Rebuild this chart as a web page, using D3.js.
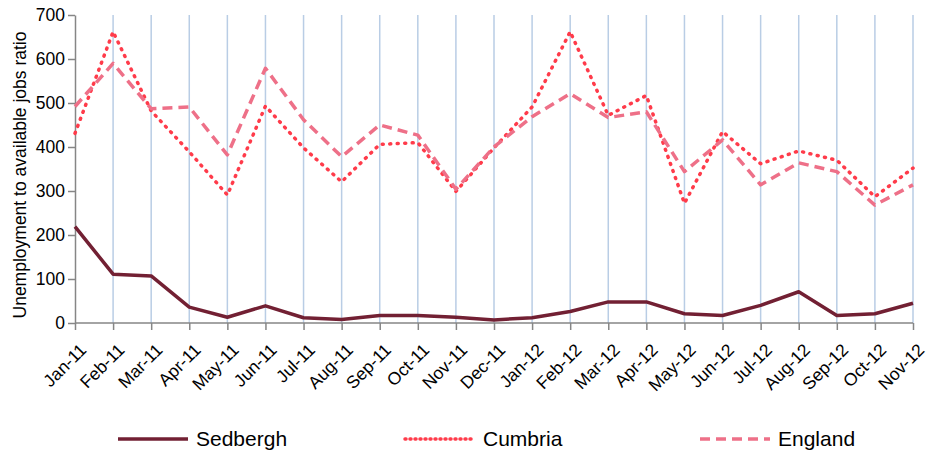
<!DOCTYPE html>
<html>
<head>
    <meta charset="utf-8">
    <script src="https://cdn.jsdelivr.net/npm/d3@7"></script>
    <style>
        html, body { margin: 0; padding: 0; background: white; }
        svg { font-family: "Liberation Sans", Arial, sans-serif; }
        .axis path, .axis line { stroke: #868686; stroke-width: 1.5px; }
        .axis text { fill: #000; font-size: 17.5px; }
        .grid line { stroke: #B9CDE5; stroke-width: 1.5px; }
        .series { fill: none; stroke-width: 3.5px; }
    </style>
</head>
<body>
<svg id="chart" width="930" height="454"></svg>
<script>
    // months along the x axis
    var months = ["Jan-11","Feb-11","Mar-11","Apr-11","May-11","Jun-11","Jul-11","Aug-11","Sep-11","Oct-11","Nov-11","Dec-11",
                  "Jan-12","Feb-12","Mar-12","Apr-12","May-12","Jun-12","Jul-12","Aug-12","Sep-12","Oct-12","Nov-12"];

    var sedbergh = [219, 111, 107, 36, 13, 39, 12, 8, 17, 17, 13, 7, 12, 26, 48, 48, 21, 17, 40, 71, 17, 21, 45];
    var cumbria  = [431, 662, 482, 389, 291, 493, 398, 321, 406, 410, 299, 398, 491, 662, 472, 517, 272, 435, 362, 391, 370, 287, 352];
    var england  = [492, 590, 487, 491, 382, 579, 462, 378, 450, 427, 304, 400, 469, 521, 467, 480, 344, 416, 314, 364, 344, 268, 314];

    var yTicks = [0, 100, 200, 300, 400, 500, 600, 700];

    var series = [
        {name: "Sedbergh", values: sedbergh, color: "#722033", dash: null},
        {name: "Cumbria",  values: cumbria,  color: "#FF3B4A", dash: "1,6.5", cap: "round"},
        {name: "England",  values: england,  color: "#EE7088", dash: "10,6"}
    ];

    // plot box (avoid "top", it clashes with window.top)
    var plotLeft = 75, plotRight = 913, plotTop = 15, plotBottom = 323;
    var svg = d3.select("#chart");

    var x = d3.scalePoint().domain(months).range([plotLeft, plotRight]);
    var y = d3.scaleLinear().domain([0, 700]).range([plotBottom, plotTop]);

    // vertical gridlines at each month (except the first, which is the axis)
    svg.append("g").attr("class", "grid")
        .selectAll("line").data(months.slice(1)).enter()
        .append("line")
        .attr("x1", function(d) { return x(d); })
        .attr("x2", function(d) { return x(d); })
        .attr("y1", y(700)).attr("y2", y(0));

    // y axis
    svg.append("g").attr("class", "axis")
        .attr("transform", "translate(" + plotLeft + ",0)")
        .call(d3.axisLeft(y).tickValues(yTicks).tickSize(7).tickSizeOuter(0).tickPadding(3));

    // x axis
    var xAxis = svg.append("g").attr("class", "axis")
        .attr("transform", "translate(0," + plotBottom + ")")
        .call(d3.axisBottom(x).tickSize(7).tickSizeOuter(0));
    xAxis.select(".domain").attr("d", "M" + plotLeft + ",0H" + plotRight);
    xAxis.selectAll("text")
        .attr("text-anchor", "end")
        .attr("x", 0).attr("y", 0).attr("dy", 0)
        .attr("transform", "translate(12,28) rotate(-45)");

    // y axis title
    svg.append("text")
        .attr("transform", "translate(26,175) rotate(-90)")
        .attr("text-anchor", "middle")
        .style("font-size", "17.5px")
        .text("Unemployment to available jobs ratio");

    // the lines
    var line = d3.line()
        .x(function(d, i) { return x(months[i]); })
        .y(function(d) { return y(d); });

    series.forEach(function(s) {
        svg.append("path")
            .attr("class", "series")
            .attr("d", line(s.values))
            .attr("stroke", s.color)
            .attr("stroke-dasharray", s.dash)
            .attr("stroke-linecap", s.cap || "butt")
            .attr("stroke-linejoin", "round");
    });

    // legend
    var legendX = [118, 405, 700];
    var legend = svg.append("g").selectAll("g").data(series).enter()
        .append("g")
        .attr("transform", function(d, i) { return "translate(" + legendX[i] + ",439)"; });
    legend.append("line")
        .attr("x1", 0).attr("x2", 70)
        .attr("stroke", function(d) { return d.color; })
        .attr("stroke-width", 3.5)
        .attr("stroke-dasharray", function(d) { return d.name == "Cumbria" ? "1,4" : d.dash; })
        .attr("stroke-linecap", function(d) { return d.cap || "butt"; });
    legend.append("text")
        .attr("x", 78).attr("dy", "0.35em")
        .style("font-size", "21px")
        .text(function(d) { return d.name; });
</script>
</body>
</html>
